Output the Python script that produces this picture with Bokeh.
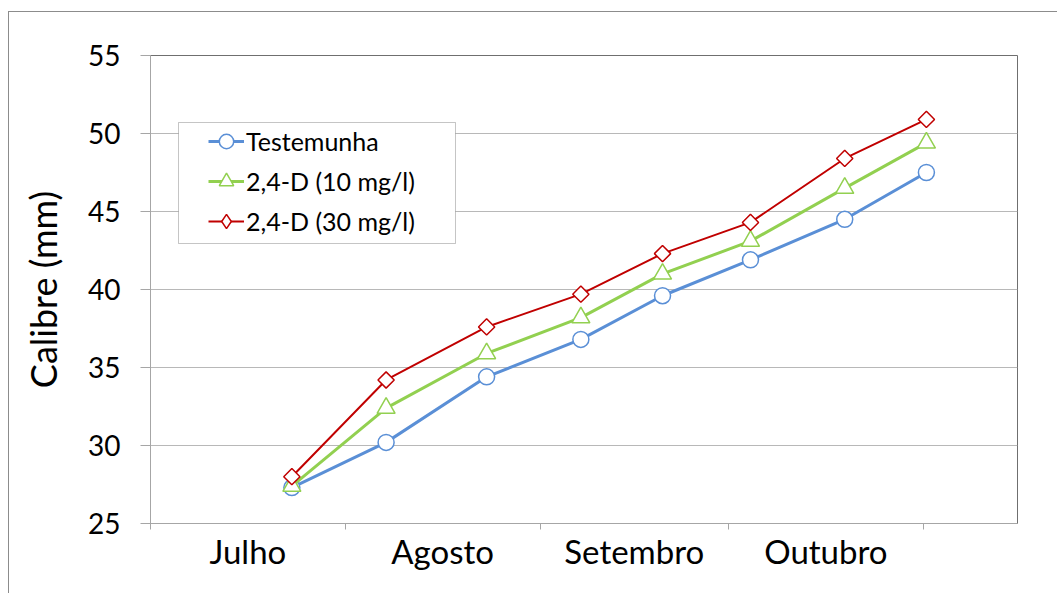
import pandas as pd
from bokeh.plotting import figure
from bokeh.models import (Range1d, FixedTicker, Legend, LegendItem, BoxAnnotation,
                          ColumnDataSource)
from bokeh.embed import file_html
from bokeh.resources import INLINE

# ---- data ----
months = ["Julho", "Agosto", "Setembro", "Outubro"]
month_starts = ["2010-07-01", "2010-08-01", "2010-09-01", "2010-10-01", "2010-11-01"]
dates = ["2010-07-23", "2010-08-07", "2010-08-23", "2010-09-07",
         "2010-09-20", "2010-10-04", "2010-10-19", "2010-11-01"]
testemunha = [27.3, 30.2, 34.4, 36.8, 39.6, 41.9, 44.5, 47.5]
d10 = [27.4, 32.4, 35.9, 38.2, 41.0, 43.1, 46.5, 49.4]
d30 = [28.0, 34.2, 37.6, 39.7, 42.3, 44.3, 48.4, 50.9]
series_names = ["Testemunha", "2,4-D (10 mg/l)", "2,4-D (30 mg/l)"]
y_ticks = [25, 30, 35, 40, 45, 50, 55]

origin = pd.Timestamp(month_starts[0])
day_x = [(pd.Timestamp(d) - origin).days + 0.5 for d in dates]  # centre of day slot
bounds = [(pd.Timestamp(d) - origin).days for d in month_starts]
mids = [(a + b) / 2 for a, b in zip(bounds[:-1], bounds[1:])]

FONT = "Lato"

p = figure(frame_width=867, frame_height=468,
           min_border_left=141, min_border_right=40,
           min_border_top=43, min_border_bottom=70,
           x_range=Range1d(0, 138), y_range=Range1d(25, 55),
           output_backend="svg", toolbar_location=None,
           background_fill_color="white", border_fill_color="white")
p.styles = {"margin-left": "8px", "margin-top": "11px",
            "border-left": "1px solid #8c8c8c", "border-top": "1px solid #8c8c8c"}

p.outline_line_color = "#6f6f6f"
p.outline_line_width = 1

# axes
xa = p.xaxis[0]
xa.ticker = FixedTicker(ticks=mids, minor_ticks=bounds)
xa.major_label_overrides = {m: lab for m, lab in zip(mids, months)}
xa.major_tick_line_color = None
xa.minor_tick_line_color = "#a6a6a6"
xa.minor_tick_out = 6
xa.minor_tick_in = 0
xa.axis_line_color = "#a6a6a6"
xa.major_label_text_font = FONT
xa.major_label_text_font_size = "33px"
xa.major_label_text_color = "black"
xa.major_label_standoff = 1

ya = p.yaxis[0]
ya.ticker = FixedTicker(ticks=y_ticks, minor_ticks=[])
ya.major_tick_out = 10
ya.major_tick_in = 0
ya.major_tick_line_color = "#a6a6a6"
ya.axis_line_color = "#a6a6a6"
ya.major_label_text_font = FONT
ya.major_label_text_font_size = "28px"
ya.major_label_text_color = "black"
ya.major_label_standoff = 20
ya.axis_label = "Calibre (mm)"
ya.axis_label_text_font = FONT
ya.axis_label_text_font_size = "36px"
ya.axis_label_text_font_style = "normal"
ya.axis_label_text_color = "black"
ya.axis_label_standoff = 20

p.xgrid.grid_line_color = None
p.ygrid.grid_line_color = "#b8b8b8"
p.ygrid.ticker = FixedTicker(ticks=y_ticks)

styles = [
    dict(color="#5A8FD6", lw=3, marker="circle", size=16, angle=0.0, lmarker="circle"),
    dict(color="#92D050", lw=3, marker="triangle", size=18, angle=0.0, lmarker="triangle"),
    dict(color="#C00000", lw=2, marker="square", size=11.5, angle=0.785398, lmarker="diamond"),
]
items = []
for name, vals, st in zip(series_names, [testemunha, d10, d30], styles):
    src = ColumnDataSource(dict(x=day_x, y=vals))
    lr = p.line("x", "y", source=src, line_color=st["color"], line_width=st["lw"])
    leg_r = None
    if st["lmarker"] != st["marker"]:
        # legend swatch (Excel-style diamond); hidden under the rotated squares
        leg_r = p.scatter("x", "y", source=src, marker=st["lmarker"], size=13,
                          fill_color="white", line_color=st["color"], line_width=1.5)
    sr = p.scatter("x", "y", source=src, marker=st["marker"], size=st["size"],
                   angle=st["angle"], fill_color="white", line_color=st["color"],
                   line_width=1.5)
    items.append(LegendItem(label=name, renderers=[lr, leg_r or sr]))

# legend box
p.add_layout(BoxAnnotation(left=168, right=445, top=109, bottom=230,
                           left_units="canvas", right_units="canvas",
                           top_units="canvas", bottom_units="canvas",
                           fill_color="white", fill_alpha=1,
                           line_color="#404040", line_width=1))

legend = Legend(items=items, location=(58, 284), orientation="vertical",
                padding=0, spacing=4, glyph_width=36, glyph_height=36,
                label_height=36, label_standoff=2, margin=0,
                border_line_color=None, background_fill_alpha=0,
                label_text_font=FONT, label_text_font_size="25px",
                label_text_color="black")
p.add_layout(legend, "center")

open("out.html", "w").write(file_html(p, INLINE))
